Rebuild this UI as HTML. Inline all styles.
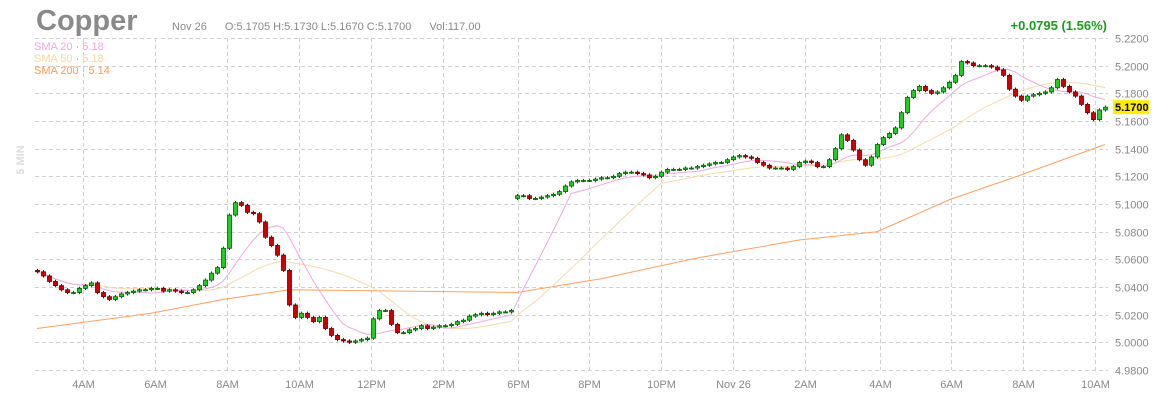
<!DOCTYPE html>
<html><head><meta charset="utf-8"><style>
html,body{margin:0;padding:0;background:#fff;width:1156px;height:400px;overflow:hidden}
svg text{font-family:"Liberation Sans",sans-serif}
</style></head><body>
<svg id="chart" width="1156" height="400" xmlns="http://www.w3.org/2000/svg">
<g id="grid"></g>
<g id="smas"></g>
<g id="candles"></g>
<g id="axes"></g>
<text x="36" y="30" font-size="29" font-weight="bold" fill="#8a8a8a">Copper</text>
<text x="172" y="30" font-size="11" fill="#888">Nov 26<tspan dx="18">O:5.1705  H:5.1730  L:5.1670  C:5.1700</tspan><tspan dx="18">Vol:117.00</tspan></text>
<text x="1107" y="30" font-size="13" font-weight="bold" fill="#1f9a1f" text-anchor="end">+0.0795 (1.56%)</text>
<text x="34" y="50" font-size="11" fill="#f0a8e0">SMA 20 <tspan fill="#999">·</tspan> 5.18</text>
<text x="34" y="62" font-size="11" fill="#f2d9a0">SMA 50 <tspan fill="#999">·</tspan> 5.18</text>
<text x="34" y="74" font-size="11" fill="#ff9a50">SMA 200 <tspan fill="#999">·</tspan> 5.14</text>
<text x="24" y="160" font-size="11" font-weight="bold" fill="#ddd" transform="rotate(-90 24 160)" text-anchor="middle">5 MIN</text>
</svg>
<script>
const closes=[5.051,5.048,5.044,5.041,5.038,5.036,5.036,5.039,5.041,5.043,5.036,5.033,5.031,5.033,5.035,5.036,5.037,5.038,5.038,5.039,5.039,5.037,5.038,5.037,5.036,5.036,5.038,5.041,5.045,5.050,5.054,5.068,5.092,5.101,5.099,5.094,5.093,5.087,5.076,5.070,5.063,5.052,5.027,5.018,5.021,5.018,5.015,5.018,5.010,5.005,5.002,5.001,5.000,5.001,5.002,5.003,5.017,5.023,5.023,5.013,5.007,5.007,5.009,5.010,5.012,5.010,5.011,5.012,5.012,5.013,5.015,5.016,5.019,5.020,5.021,5.020,5.021,5.022,5.022,5.023,5.106,5.106,5.104,5.104,5.105,5.106,5.107,5.109,5.113,5.116,5.117,5.117,5.117,5.118,5.119,5.119,5.120,5.122,5.123,5.123,5.122,5.121,5.119,5.120,5.123,5.125,5.125,5.125,5.126,5.126,5.127,5.128,5.129,5.130,5.130,5.132,5.134,5.135,5.134,5.133,5.130,5.128,5.126,5.126,5.126,5.125,5.127,5.130,5.131,5.130,5.127,5.127,5.132,5.140,5.150,5.146,5.139,5.132,5.128,5.134,5.143,5.148,5.151,5.155,5.166,5.177,5.182,5.185,5.182,5.180,5.181,5.184,5.188,5.193,5.203,5.202,5.200,5.200,5.200,5.199,5.197,5.193,5.183,5.178,5.175,5.178,5.179,5.180,5.181,5.184,5.190,5.185,5.181,5.178,5.172,5.166,5.161,5.168,5.170];
const sma200Idx=[0,19,31,42,80,94,110,127,140,152,164,178];
const sma200Val=[5.010,5.021,5.031,5.038,5.036,5.046,5.061,5.074,5.080,5.103,5.121,5.143];
const yTicks=["5.2200","5.2000","5.1800","5.1600","5.1400","5.1200","5.1000","5.0800","5.0600","5.0400","5.0200","5.0000","4.9800"];
const xTickLabels=["4AM","6AM","8AM","10AM","12PM","2PM","6PM","8PM","10PM","Nov 26","2AM","4AM","6AM","8AM","10AM"];
const xTickBars=[7.7,19.7,31.7,43.7,55.7,67.7,80.2,92,104,116,128,140.5,152.3,164.3,176.3];
const lastPrice=5.17;
const NS="http://www.w3.org/2000/svg";
const yTop=38,yBot=370,vTop=5.22,vBot=4.98;
const Y=v=>yTop+(vTop-v)/(vTop-vBot)*(yBot-yTop);
const X=i=>37+i*6;
function mk(tag,attrs,parent){const e=document.createElementNS(NS,tag);for(const k in attrs)e.setAttribute(k,attrs[k]);parent.appendChild(e);return e;}
const grid=document.getElementById('grid'),axes=document.getElementById('axes');
yTicks.forEach(t=>{const y=Math.round(Y(+t))+0.5;
 const l=mk('line',{x1:35,x2:1108,y1:y,y2:y,stroke:'#d0d0d0','stroke-dasharray':'4,3'},grid);
 
 
 const tx=mk('text',{x:1115,y:y+4,'font-size':11,fill:'#888'},axes);tx.textContent=t;
 
 
});
xTickLabels.forEach((t,k)=>{const x=Math.round(X(xTickBars[k]))+0.5;
 const l=mk('line',{x1:x,x2:x,y1:yTop,y2:yBot,stroke:'#d0d0d0','stroke-dasharray':'4,3'},grid);
 
 
 const tx=mk('text',{x:x,y:388,'font-size':11,fill:'#888','text-anchor':'middle'},axes);tx.textContent=t;
 
 
});
// SMAs
const smas=document.getElementById('smas');
function sma(n){return closes.map((c,i)=>{const s=Math.max(0,i-n+1);let a=0;for(let j=s;j<=i;j++)a+=closes[j];return a/(i-s+1);});}
function poly(vals,idx,color,name){const pts=vals.map((v,k)=>X(idx?idx[k]:k)+','+Y(v).toFixed(1)).join(' ');
 const p=mk('polyline',{points:pts,fill:'none',stroke:color,'stroke-width':1},smas);
 
 }
poly(sma200Val,sma200Idx,'#ffa060','sma200-line');
poly(sma(25),null,'#f5dca8','sma50-line');
poly(sma(10),null,'#f0a8e0','sma20-line');
// candles
const cg=document.getElementById('candles');
closes.forEach((c,i)=>{const o=i?closes[i-1]:c+0.001;const op=(i===80)?c-0.002:o;
 const up=c>=op;const x=X(i);
 const hi=Math.max(op,c)+0.0012,lo=Math.min(op,c)-0.0012;
 const w=mk('line',{x1:x+0.5,x2:x+0.5,y1:Y(hi),y2:Y(lo),stroke:up?'#006000':'#700000'},cg);
 
 
 const yt=Y(Math.max(op,c)),yb=Y(Math.min(op,c));
 const r=mk('rect',{x:x-1.5,y:yt,width:4,height:Math.max(1,yb-yt),fill:up?'#22cc22':'#cc0000',stroke:up?'#006000':'#700000','stroke-width':0.8},cg);
 
 
});
// price tag
const py=Y(lastPrice);
const tag=mk('rect',{x:1113,y:py-7,width:36,height:14,fill:'#ffee00'},axes);


const tt=mk('text',{x:1115,y:py+4,'font-size':11,'font-weight':'bold',fill:'#000'},axes);tt.textContent=lastPrice.toFixed(4);


</script>
</body></html>
